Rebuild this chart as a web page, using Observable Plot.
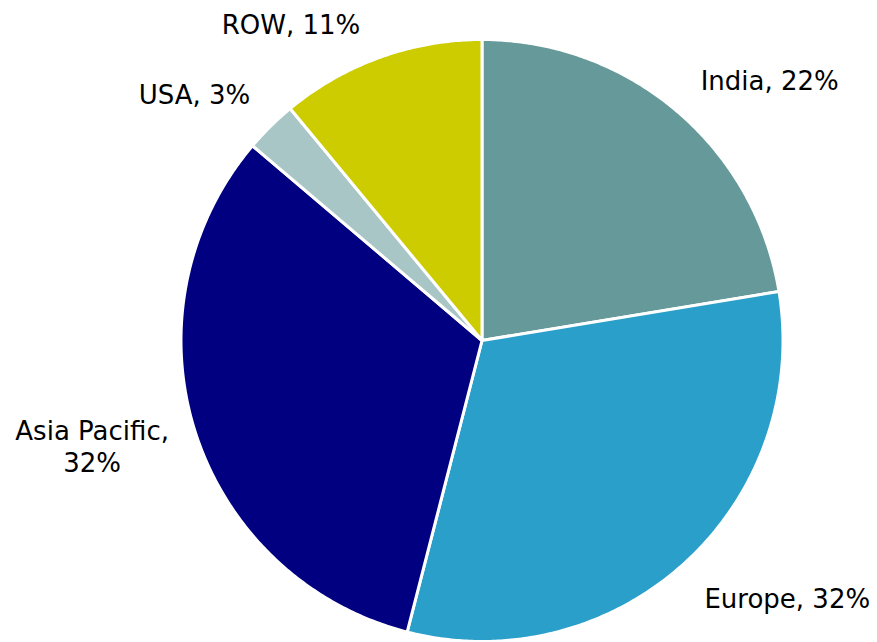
<!DOCTYPE html>
<html>
<head>
<meta charset="utf-8">
<script src="https://cdn.jsdelivr.net/npm/d3@7"></script>
<script src="https://cdn.jsdelivr.net/npm/@observablehq/plot@0.6"></script>
<style>
  html, body { margin: 0; padding: 0; background: #fff; }
  #chart svg { display: block; }
</style>
</head>
<body>
<div id="chart"></div>
<script>
// ---- data ----
const regions = ["India", "Europe", "Asia Pacific", "USA", "ROW"];
const shares = [22.4, 31.6, 32.2, 2.8, 11.0];
const labelNames = ["India", "Europe", "Asia Pacific,\n", "USA", "ROW"];

// ---- style / layout ----
const colors = ["#669999", "#2A9FC9", "#000080", "#A9C6C6", "#CCCC00"];
// label nudges (pixels) relative to each slice's outer mid-arc point
const labelNudge = [[93, -31], [102, 35], [-103, 14], [-76, -33], [-89, -34]];

const W = 877, H = 642;
const cx = 481.5, cy = 340, R = 301;

// pie geometry from the data (clockwise from 12 o'clock)
const pie = d3.pie().sort(null).value(d => d.share)(
  regions.map((name, i) => ({name, share: shares[i], i}))
);

const polyPts = [];
pie.forEach(p => {
  const name = p.data.name;
  polyPts.push({name, x: 0, y: 0});
  const steps = Math.max(4, Math.ceil((p.endAngle - p.startAngle) / (Math.PI / 360)));
  for (let k = 0; k <= steps; k++) {
    const a = p.startAngle + (p.endAngle - p.startAngle) * k / steps;
    polyPts.push({name, x: Math.sin(a), y: -Math.cos(a)});
  }
  polyPts.push({name, x: 0, y: 0});
});

const labels = pie.map(p => {
  const i = p.data.i;
  const a = (p.startAngle + p.endAngle) / 2;
  return {
    name: p.data.name,
    text: labelNames[i] + (labelNames[i].endsWith("\n") ? "" : ", ") + Math.round(p.data.share) + "%",
    x: Math.sin(a) + labelNudge[i][0] / R,
    y: -Math.cos(a) + labelNudge[i][1] / R
  };
});

const chart = Plot.plot({
  width: W,
  height: H,
  margin: 0,
  x: {domain: [-1, 1], range: [cx - R, cx + R], axis: null},
  y: {domain: [-1, 1], range: [cy - R, cy + R], axis: null},
  color: {domain: regions, range: colors},
  style: {background: "#fff", fontFamily: "'DejaVu Sans', sans-serif"},
  marks: [
    Plot.line(polyPts, {x: "x", y: "y", z: "name", fill: "name", stroke: "white", strokeWidth: 3, strokeLinejoin: "round", curve: "linear"}),
    Plot.text(labels, {x: "x", y: "y", text: "text", fill: "#000", fontSize: 26, lineHeight: 1.23, textAnchor: "middle", lineAnchor: "middle"})
  ]
});
document.getElementById("chart").appendChild(chart);
</script>
</body>
</html>
